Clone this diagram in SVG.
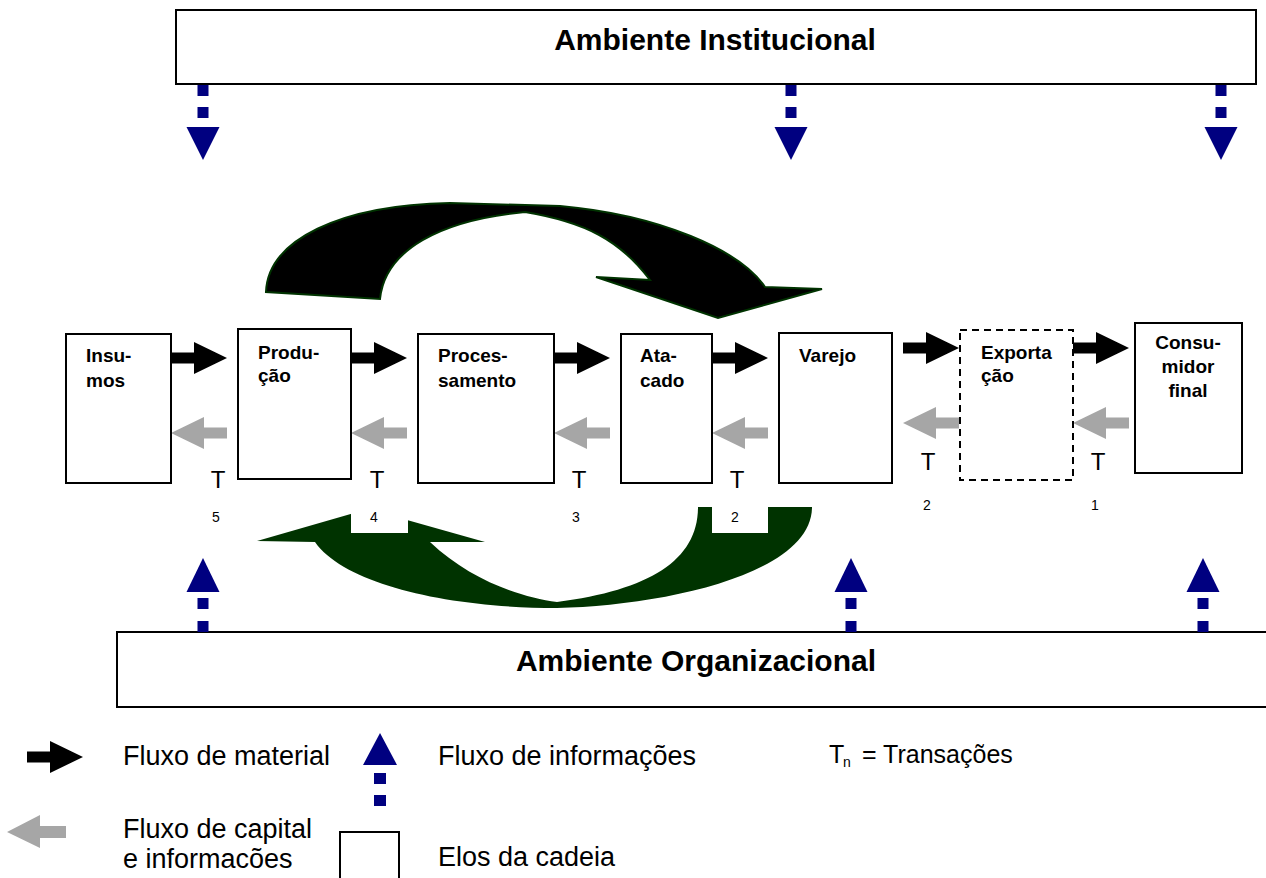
<svg xmlns="http://www.w3.org/2000/svg" width="1266" height="878" viewBox="0 0 1266 878">
<style>
.box{fill:#fff;stroke:#000;stroke-width:2}
.dash{fill:#fff;stroke:#000;stroke-width:2;stroke-dasharray:7,5}
.nt{font-family:"Liberation Sans",Arial,sans-serif;font-size:19px;font-weight:bold;fill:#000}
.title{font-family:"Liberation Sans",Arial,sans-serif;font-size:30px;font-weight:bold;fill:#000;text-anchor:middle}
.t{font-family:"Liberation Sans",Arial,sans-serif;font-size:24px;fill:#000;text-anchor:middle}
.sub{font-family:"Liberation Sans",Arial,sans-serif;font-size:14px;fill:#000;text-anchor:middle}
.lg{font-family:"Liberation Sans",Arial,sans-serif;font-size:27px;fill:#000}
.blk{fill:#000}
.gry{fill:#a6a6a6}
.blue{fill:#000080}
</style>
<defs>
<path id="mat" d="M0,-5.5 H23 V-16 L56,0 L23,16 V5.5 H0 Z"/>
<path id="cap" d="M0,0 L33,-16 V-5.5 H56 V5.5 H33 V16 Z"/>
<g id="down"><rect x="-5.5" y="0" width="11" height="11"/><rect x="-5.5" y="22" width="11" height="11"/><path d="M-16.5,42 H16.5 L0,75 Z"/></g>
<g id="up"><path d="M0,0 L16.5,34 H-16.5 Z"/><rect x="-5.5" y="40" width="11" height="11"/><rect x="-5.5" y="63" width="11" height="11"/></g>
</defs>

<g id="ambiente-institucional">
<rect class="box" x="176" y="10" width="1080" height="74"/>
<text class="title" x="715" y="50">Ambiente Institucional</text>
</g>
<g id="ambiente-organizacional">
<rect class="box" x="117" y="632" width="1160" height="75"/>
<text class="title" x="696" y="671">Ambiente Organizacional</text>
</g>

<g id="connectors">
<g class="blue">
<use href="#down" x="203" y="85"/>
<use href="#down" x="791" y="85"/>
<use href="#down" x="1221" y="85"/>
<use href="#up" x="203" y="558"/>
<use href="#up" x="851" y="558"/>
<use href="#up" x="1203" y="558"/>
</g>
<path d="M266,292 C268,240 340,205 450,203 L560,206 C660,215 740,250 765,287 L822,289 L718,318 L596,277 L650,280 C620,240 585,222 525,212 C440,220 385,250 380,299 Z" fill="#000" stroke="#003300" stroke-width="2"/>
<path d="M698,507 L812,507 C812,575 660,606 557,608 C450,608 345,585 315,542 L257,541 L368,509 L485,542 L430,542 C470,580 520,597 557,602 C650,590 698,560 698,507 Z" fill="#003300"/>
<rect x="351" y="505" width="57" height="28" fill="#fff"/>
<rect x="712" y="505" width="56" height="28" fill="#fff"/>
<g class="blk">
<use href="#mat" x="171" y="358"/>
<use href="#mat" x="351" y="358"/>
<use href="#mat" x="554" y="358"/>
<use href="#mat" x="712" y="358"/>
<use href="#mat" x="903" y="348"/>
<use href="#mat" x="1073" y="348"/>
</g>
<g class="gry">
<use href="#cap" x="171" y="433"/>
<use href="#cap" x="351" y="433"/>
<use href="#cap" x="554" y="433"/>
<use href="#cap" x="712" y="433"/>
<use href="#cap" x="903" y="423"/>
<use href="#cap" x="1073" y="423"/>
</g>
</g>

<g id="insumos">
<rect class="box" x="66" y="334" width="105" height="149"/>
<text class="nt" x="86" y="362">Insu-</text>
<text class="nt" x="86" y="387">mos</text>
</g>
<g id="producao">
<rect class="box" x="238" y="329" width="113" height="150"/>
<text class="nt" x="258" y="359">Produ-</text>
<text class="nt" x="258" y="382">ção</text>
</g>
<g id="processamento">
<rect class="box" x="418" y="334" width="136" height="149"/>
<text class="nt" x="438" y="362">Proces-</text>
<text class="nt" x="438" y="387">samento</text>
</g>
<g id="atacado">
<rect class="box" x="621" y="334" width="91" height="149"/>
<text class="nt" x="640" y="362">Ata-</text>
<text class="nt" x="640" y="387">cado</text>
</g>
<g id="varejo">
<rect class="box" x="779" y="333" width="113" height="150"/>
<text class="nt" x="799" y="362">Varejo</text>
</g>
<g id="exportacao">
<rect class="dash" x="960" y="330" width="113" height="150"/>
<text class="nt" x="981" y="359">Exporta</text>
<text class="nt" x="981" y="382">ção</text>
</g>
<g id="consumidor">
<rect class="box" x="1135" y="323" width="107" height="150"/>
<text class="nt" x="1188" y="349" text-anchor="middle">Consu-</text>
<text class="nt" x="1188" y="373" text-anchor="middle">midor</text>
<text class="nt" x="1188" y="397" text-anchor="middle">final</text>
</g>

<g id="transactions">
<text class="t" x="218" y="488">T</text><text class="sub" x="216" y="522">5</text>
<text class="t" x="377" y="488">T</text><text class="sub" x="374" y="522">4</text>
<text class="t" x="579" y="488">T</text><text class="sub" x="576" y="522">3</text>
<text class="t" x="737" y="488">T</text><text class="sub" x="735" y="522">2</text>
<text class="t" x="928" y="470">T</text><text class="sub" x="927" y="510">2</text>
<text class="t" x="1098" y="470">T</text><text class="sub" x="1095" y="510">1</text>
</g>

<g id="legend">
<use href="#mat" class="blk" x="27" y="757"/>
<text class="lg" x="123" y="765">Fluxo de material</text>
<g class="blue">
<path d="M380,733 L397,765 H363 Z"/>
<rect x="374" y="773" width="12" height="11"/>
<rect x="374" y="795" width="12" height="11"/>
</g>
<text class="lg" x="438" y="765">Fluxo de informações</text>
<text x="829" y="763" font-family="Liberation Sans, Arial, sans-serif" font-size="25">T</text>
<text x="843" y="767" font-family="Liberation Sans, Arial, sans-serif" font-size="14">n</text>
<text x="862" y="763" font-family="Liberation Sans, Arial, sans-serif" font-size="25">= Transações</text>
<path class="gry" d="M7,832 L40,815 V826 H66 V838 H40 V848 Z"/>
<text class="lg" x="123" y="838">Fluxo de capital</text>
<text class="lg" x="123" y="868">e informacões</text>
<rect class="box" x="340" y="832" width="59" height="60"/>
<text class="lg" x="438" y="866">Elos da cadeia</text>
</g>
</svg>
